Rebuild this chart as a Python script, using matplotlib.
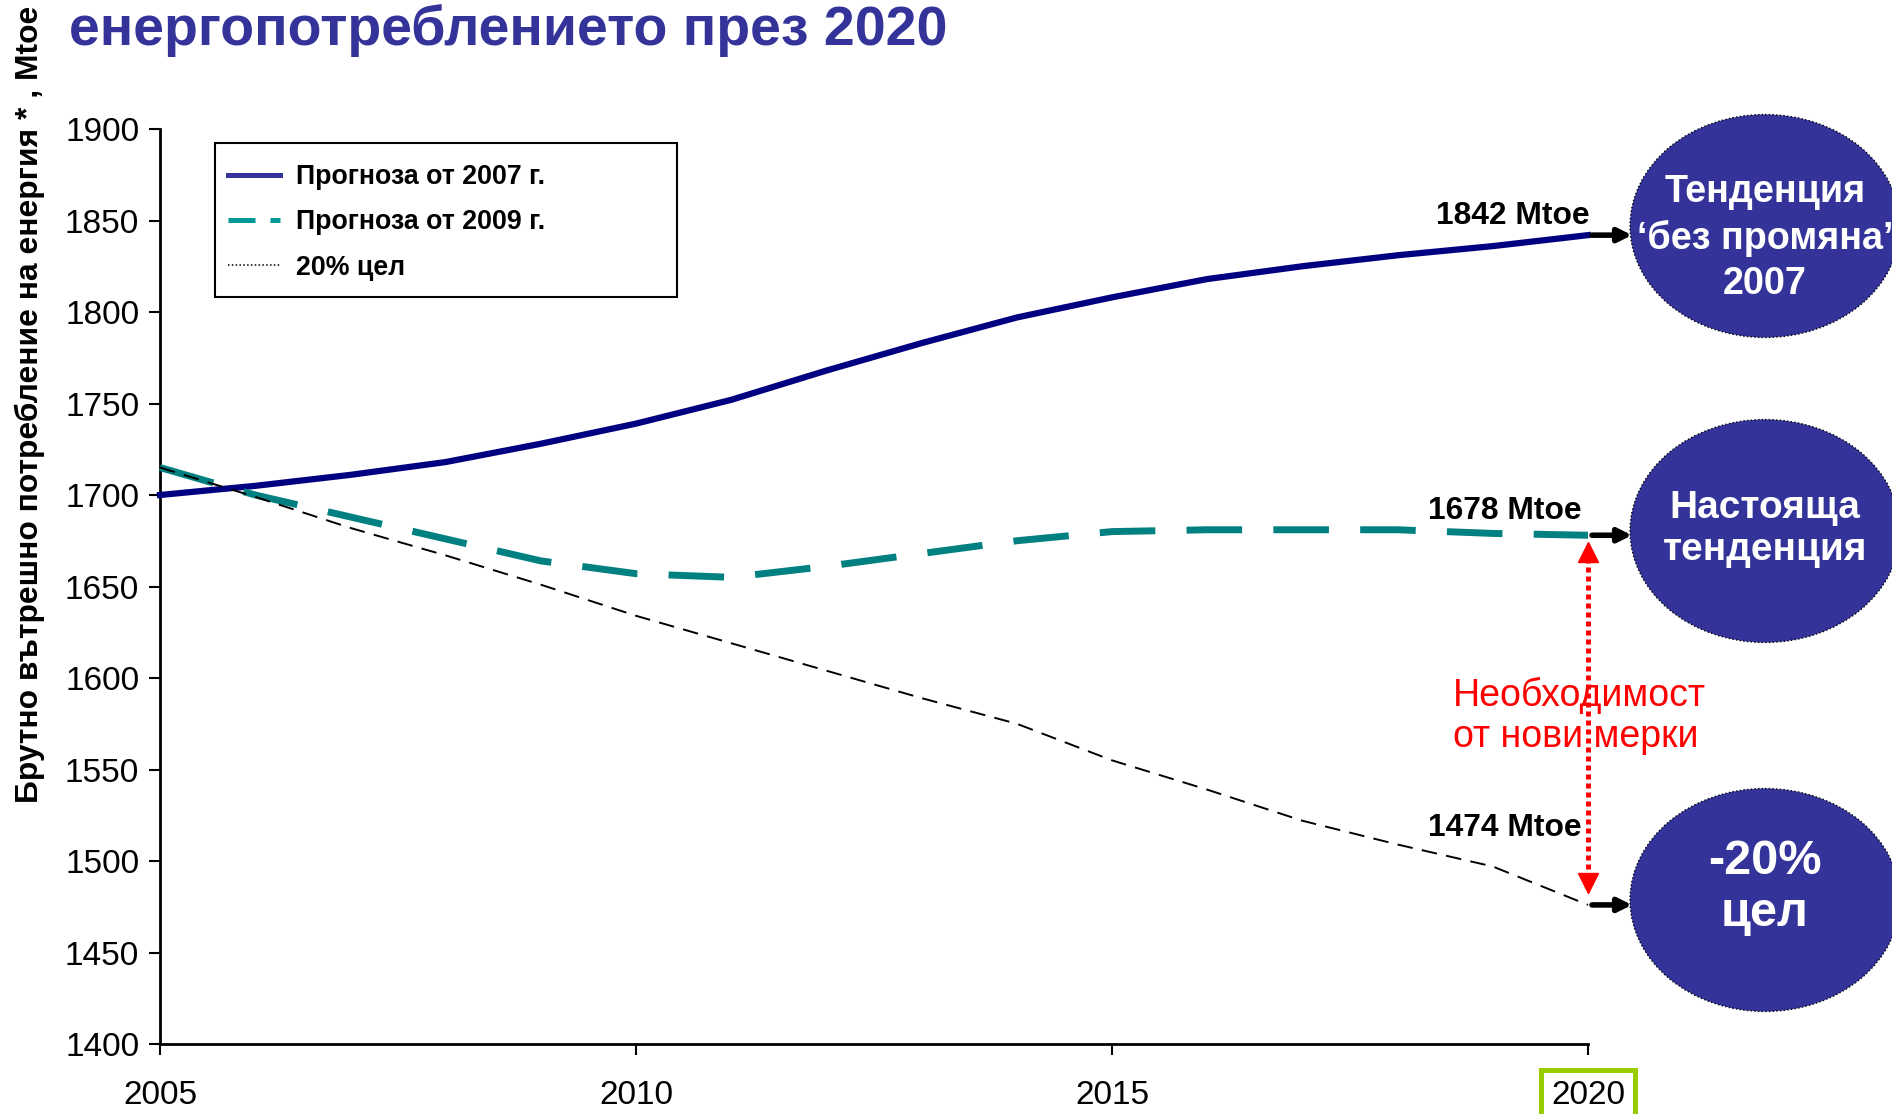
import matplotlib.pyplot as plt
from matplotlib.patches import Ellipse, Rectangle
from matplotlib.lines import Line2D
from matplotlib import transforms

plt.rcParams['font.family'] = ['Liberation Sans', 'DejaVu Sans']

# data (Mtoe)
years = list(range(2005, 2021))
forecast_2007 = [1700, 1705, 1711, 1718, 1728, 1739, 1752, 1768, 1783, 1797,
                 1808, 1818, 1825, 1831, 1836, 1842]
forecast_2009 = [1715, 1700, 1688, 1676, 1664, 1657, 1655, 1661, 1668, 1675,
                 1680, 1681, 1681, 1681, 1679, 1678]
target_20 = [1715, 1699, 1682, 1667, 1651, 1634, 1619, 1604, 1589, 1575,
             1555, 1539, 1522, 1509, 1497, 1476]
y_ticks = [1400, 1450, 1500, 1550, 1600, 1650, 1700, 1750, 1800, 1850, 1900]
x_ticks = [2005, 2010, 2015, 2020]
series_labels = ['Прогноза от 2007 г.', 'Прогноза от 2009 г.', '20% цел']
end_labels = ['1842 Mtoe', '1678 Mtoe', '1474 Mtoe']
bubble_texts = ['Тенденция\n‘без промяна’\n2007', 'Настояща\nтенденция', '-20%\nцел']

W, H = 1892, 1114
navy = '#000080'
teal = '#008080'
bubble = '#333399'

fig = plt.figure(figsize=(W / 100, H / 100), dpi=100)
ax = fig.add_axes([160 / W, 1 - 1044 / H, (1588 - 160) / W, (1044 - 129) / H])

ax.plot(years, forecast_2007, color=navy, lw=4.5, clip_on=False, zorder=3)
ax.plot(years, forecast_2009, color=teal, lw=5, ls=(0, (8, 4.5)), clip_on=False, zorder=3)
ax.plot(years, target_20, color='black', lw=1.4, ls=(0, (8, 4.8)), clip_on=False, zorder=3)

ax.set_xlim(2005, 2020)
ax.set_ylim(1400, 1900)
ax.set_xticks(x_ticks)
ax.set_yticks(y_ticks)
for s in ['top', 'right']:
    ax.spines[s].set_visible(False)
for s in ['left', 'bottom']:
    ax.spines[s].set_linewidth(2)
ax.tick_params(axis='both', direction='out', length=8, width=1.5, labelsize=24)
ax.tick_params(axis='y', pad=7)
ax.tick_params(axis='x', pad=18)
ax.get_xticklabels()[-1].set_bbox(dict(facecolor='white', edgecolor='#99CC00', lw=3.6,
                                       boxstyle='square,pad=0.3'))

# legend with its own wide frame
handles = [Line2D([], [], color=bubble, lw=3.6),
           Line2D([], [], color='#009999', lw=3.6, ls=(0, (5.4, 3))),
           Line2D([], [], color='black', lw=1.1, ls=(0, (1, 1.5)))]
leg = ax.legend(handles, series_labels, loc='upper left', frameon=False,
                bbox_to_anchor=(228 / W, 1 - 164 / H), bbox_transform=fig.transFigure,
                prop=dict(weight='bold', size=19.3), borderpad=0, borderaxespad=0,
                handlelength=1.95, handletextpad=0.6, labelspacing=0.72)

# black arrows from the 2020 end points to the bubbles
for v in [forecast_2007[-1], forecast_2009[-1], target_20[-1]]:
    tail = transforms.offset_copy(ax.transData, fig, x=4, y=0, units='dots')
    head = transforms.offset_copy(ax.transData, fig, x=44, y=0, units='dots')
    ax.annotate('', xy=(2020, v), xycoords=head, xytext=(2020, v), textcoords=tail,
                arrowprops=dict(arrowstyle='-|>,head_length=0.8,head_width=0.4',
                                color='black', lw=4, shrinkA=0, shrinkB=0),
                annotation_clip=False)

# overlay in pixel coordinates for the slide decorations
ov = fig.add_axes([0, 0, 1, 1], zorder=5)
ov.set_xlim(0, W)
ov.set_ylim(H, 0)
ov.axis('off')

ov.add_patch(Rectangle((215, 143), 462, 154, facecolor='none', edgecolor='black', lw=1.5))

fig.text(69 / W, 1 - 45 / H, 'енергопотреблението през 2020', color=bubble,
         fontsize=40, fontweight='bold', ha='left', va='baseline')
fig.text(30 / W, 1 - 404 / H, 'Брутно вътрешно потребление на енергия * , Mtoe',
         rotation=90, fontsize=22.9, fontweight='bold', ha='center', va='center')

bubble_y = [226, 531, 900]
text_y = [238, 529, 888]
sizes = [27.2, 28, 35]
spacing = [1.32, 1.22, 1.2]
for by, ty, t, fs, sp in zip(bubble_y, text_y, bubble_texts, sizes, spacing):
    ov.add_patch(Ellipse((1765, by), 270, 223, facecolor=bubble, edgecolor='black',
                         ls=':', lw=1, clip_on=False))
    ov.text(1765, ty, t, color='white', fontsize=fs, fontweight='bold', ha='center',
            va='center', linespacing=sp, clip_on=False)

label_pos = [(1590, 216), (1582, 511), (1582, 828)]
for (lx, ly), t in zip(label_pos, end_labels):
    ov.text(lx, ly, t, fontsize=22.9, fontweight='bold', ha='right', va='center')

# red double arrow: need for new measures
ov.plot([1588, 1588], [558, 878], color='red', lw=3.6, ls=(0, (1, 0.8)))
ov.plot([1588], [552], marker='^', color='red', markersize=14, ls='none')
ov.plot([1588], [883], marker='v', color='red', markersize=14, ls='none')
ov.text(1453, 716, 'Необходимост\nот нови мерки', color='red', fontsize=27,
        ha='left', va='center', linespacing=1.2)

fig.savefig('out.png', dpi=100)
